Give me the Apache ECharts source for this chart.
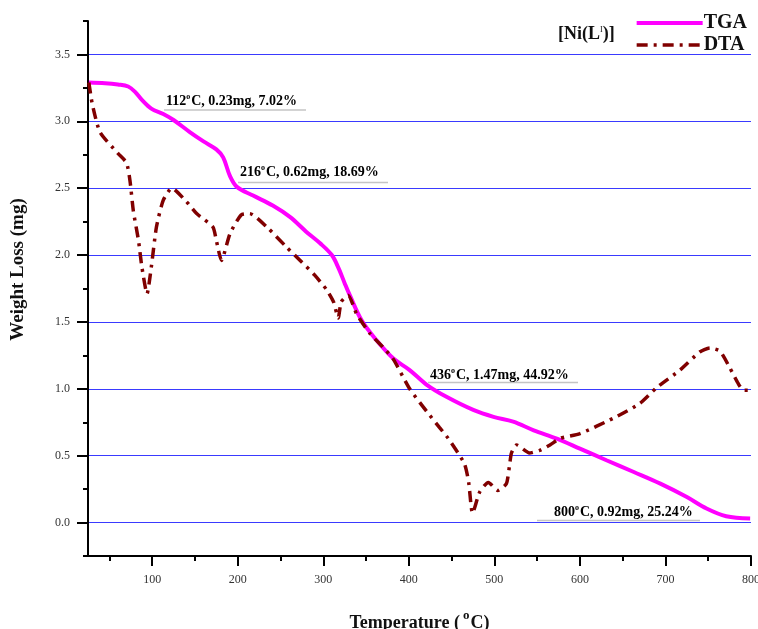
<!DOCTYPE html>
<html>
<head>
<meta charset="utf-8">
<script src="https://cdn.jsdelivr.net/npm/echarts@6/dist/echarts.min.js"></script>
<style>html,body{margin:0;padding:0;background:#fff;}#c{width:758px;height:629px;}</style>
</head>
<body>
<div id="c"></div>
<script>
// ---- data ----
const tgaTemp = [26,45,60,72,80,88,99,113,125,144,160,175,183,191,199,218,241,261,280,296,310,318,325,331,345,362,382,401,421,444,476,499,522,546,573,600,631,663,694,725,748,771,799];
const tgaMass = [3.29,3.285,3.275,3.26,3.22,3.16,3.095,3.055,3.01,2.92,2.85,2.79,2.73,2.59,2.51,2.445,2.37,2.285,2.175,2.09,2.0,1.90,1.79,1.70,1.51,1.365,1.226,1.14,1.03,0.94,0.84,0.79,0.755,0.69,0.628,0.553,0.466,0.378,0.291,0.191,0.105,0.047,0.03];
const dtaTemp = [26,30,39,60,70,74,78,84,88,94,99,105,113,123,140,152,171,175,181,191,204,214,234,257,273,290,304,312,317.5,321,329,339,355,370,382,401,421,436,446,465,470,474.5,483,493,504,514,518,520,526,541,553,565,577,600,639,670,690,717,740,752,764,775,785,791,799];
const dtaVal = [3.29,3.13,2.92,2.76,2.69,2.56,2.33,2.11,1.91,1.71,1.91,2.21,2.41,2.50,2.40,2.31,2.21,2.11,1.96,2.16,2.30,2.31,2.21,2.06,1.96,1.85,1.74,1.65,1.53,1.65,1.70,1.56,1.41,1.31,1.22,1.00,0.83,0.71,0.63,0.44,0.30,0.07,0.23,0.30,0.24,0.29,0.44,0.52,0.58,0.52,0.54,0.58,0.63,0.665,0.78,0.89,1.01,1.14,1.275,1.305,1.28,1.16,1.04,0.99,0.99];
const xLabels = [100,200,300,400,500,600,700,800];
const xMinorTicks = [50,150,250,350,450,550,650,750];
const yLabels = [0,0.5,1.0,1.5,2.0,2.5,3.0,3.5];
const yMinorTicks = [-0.25,0.25,0.75,1.25,1.75,2.25,2.75,3.25,3.75];
const seriesNames = ['TGA','DTA'];
// annotation texts: [temperature, mass, percent]
const annTemp = ['112','216','436','800'];
const annMass = ['0.23mg','0.62mg','1.47mg','0.92mg'];
const annPct = ['7.02%','18.69%','44.92%','25.24%'];
const titleMain = '[Ni(L';
const titleSup = 'I';
const titleEnd = ')]';

const FONT = '"Liberation Serif", "Times New Roman", serif';
const chart = echarts.init(document.getElementById('c'), null, {renderer:'canvas'});

const annPos = [
  {x:166, y:101, lx1:164, lx2:306, ly:110},
  {x:240, y:172, lx1:238, lx2:388, ly:182.5},
  {x:430, y:375, lx1:428, lx2:578, ly:382.5},
  {x:554, y:512, lx1:537, lx2:700, ly:520.5}
];
const richAnn = {
  n:{fontFamily:FONT,fontWeight:'bold',fontSize:14,color:'#111'},
  s:{fontFamily:FONT,fontWeight:'bold',fontSize:8,color:'#111',padding:[0,1,8,0]}
};
const graphics = [];
annTemp.forEach((t,i)=>{
  const p = annPos[i];
  graphics.push({type:'line', shape:{x1:p.lx1,y1:p.ly,x2:p.lx2,y2:p.ly}, style:{stroke:'#c4c4c4',lineWidth:1.5}, z:5});
  graphics.push({type:'text', x:p.x, y:p.y, style:{text:'{n|'+t+'}{s|o}{n|C, '+annMass[i]+', '+annPct[i]+'}', rich:richAnn, verticalAlign:'middle', align:'left'}, z:6});
});

const baseX = {
  type:'value', min:25, max:800, gridIndex:0, position:'bottom',
  axisLine:{show:true,onZero:false,lineStyle:{color:'#000',width:2}},
  splitLine:{show:false}
};
const baseY = {
  type:'value', min:-0.25, max:3.75, gridIndex:0, position:'left',
  axisLine:{show:true,onZero:false,lineStyle:{color:'#000',width:2}}
};

chart.setOption({
  backgroundColor:'#fff',
  animation:false,
  grid:{left:88, right:7, top:21, bottom:73, containLabel:false, outerBoundsMode:'none'},
  title:{
    text:'{a|'+titleMain+'}{b|'+titleSup+'}{a|'+titleEnd+'}',
    left:553, top:20,
    textStyle:{rich:{
      a:{fontFamily:FONT,fontWeight:'bold',fontSize:18,color:'#111'},
      b:{fontFamily:FONT,fontWeight:'normal',fontSize:8,color:'#111',padding:[0,0,9,0]}
    }}
  },
  legend:{
    data:[
      {name:seriesNames[0], itemStyle:{opacity:0}, lineStyle:{width:4}},
      {name:seriesNames[1], itemStyle:{opacity:0}, lineStyle:{width:3.5}}
    ],
    orient:'vertical', right:6, top:8,
    itemWidth:66, itemHeight:14, itemGap:2,
    itemStyle:{opacity:0},
    textStyle:{fontFamily:FONT,fontWeight:'bold',fontSize:20,color:'#111',padding:[0,0,0,-4]}
  },
  xAxis:[
    Object.assign({}, baseX, {
      name:'{t|Temperature (}{s|o}{t|C)}', nameLocation:'middle', nameGap:53,
      nameTextStyle:{rich:{
        t:{fontFamily:FONT,fontWeight:'bold',fontSize:18,color:'#111'},
        s:{fontFamily:FONT,fontWeight:'bold',fontSize:13,color:'#111',padding:[0,1,16,3]}
      }},
      axisTick:{show:true,inside:false,length:10,customValues:xLabels,lineStyle:{color:'#000',width:2}},
      axisLabel:{show:true,customValues:xLabels,margin:18,fontFamily:FONT,fontSize:12,color:'#333'}
    }),
    Object.assign({}, baseX, {
      axisLine:{show:false,onZero:false},
      axisTick:{show:true,inside:false,length:5,customValues:xMinorTicks,lineStyle:{color:'#000',width:2}},
      axisLabel:{show:false}
    })
  ],
  yAxis:[
    Object.assign({}, baseY, {
      name:'Weight Loss (mg)', nameLocation:'middle', nameGap:60, nameRotate:90,
      nameTextStyle:{fontFamily:FONT,fontWeight:'bold',fontSize:19,color:'#111',padding:[0,0,0,38]},
      axisTick:{show:true,inside:false,length:11,customValues:yLabels,lineStyle:{color:'#000',width:2}},
      axisLabel:{show:true,customValues:yLabels,margin:18,fontFamily:FONT,fontSize:12,color:'#333',
        formatter:v=>v.toFixed(1)},
      splitLine:{show:true,lineStyle:{color:'#3a3aff',width:1.2}}
    }),
    Object.assign({}, baseY, {
      axisLine:{show:false,onZero:false},
      axisTick:{show:true,inside:false,length:5,customValues:yMinorTicks,lineStyle:{color:'#000',width:2}},
      axisLabel:{show:false},
      splitLine:{show:false}
    })
  ],
  series:[
    {
      name:seriesNames[0], type:'line', xAxisIndex:0, yAxisIndex:0,
      data:tgaTemp.map((t,i)=>[t,tgaMass[i]]),
      showSymbol:false, symbol:'none', smooth:0.35, z:3,
      lineStyle:{color:'#ff00ff',width:4},
      itemStyle:{color:'#ff00ff'}
    },
    {
      name:seriesNames[1], type:'line', xAxisIndex:0, yAxisIndex:0,
      data:dtaTemp.map((t,i)=>[t,dtaVal[i]]),
      showSymbol:false, symbol:'none', smooth:0.2, z:4,
      lineStyle:{color:'#800000',width:3.5,type:[11,6,3,6]},
      itemStyle:{color:'#800000'}
    }
  ],
  graphic:graphics
});
</script>
</body>
</html>
